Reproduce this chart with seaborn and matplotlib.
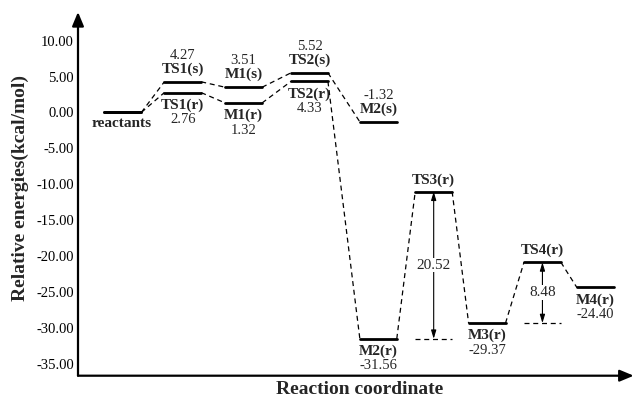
import numpy as np
import pandas as pd
import matplotlib
matplotlib.use("Agg")
import matplotlib.pyplot as plt
import seaborn as sns

# stages along the reaction coordinate
stages = ["reactants", "TS1", "M1", "TS2", "M2", "TS3", "M3", "TS4", "M4"]

# s path (stops at M2(s)) and r path (full)
s_labels = ["reactants", "TS1(s)", "M1(s)", "TS2(s)", "M2(s)"]
s_energy = [0.00, 4.27, 3.51, 5.52, -1.32]

r_labels = ["reactants", "TS1(r)", "M1(r)", "TS2(r)", "M2(r)", "TS3(r)", "M3(r)", "TS4(r)", "M4(r)"]
r_energy = [0.00, 2.76, 1.32, 4.33, -31.56, -11.04, -29.37, -20.89, -24.40]

# barriers drawn with double arrows: (ts stage, min stage, value)
barrier_ts = ["TS3", "TS4"]
barrier_from = ["M2", "M3"]
barrier_vals = [20.52, 8.48]

yticks = [10, 5, 0, -5, -10, -15, -20, -25, -30, -35]

# layout (pixel-like units along the x axis)
stage_pos = [45, 105, 166, 232, 301, 356.5, 410, 465.5, 518.5]
half_w = 18.5
pos = dict(zip(stages, stage_pos))

sns.set_theme(style="white")
plt.rcParams["font.family"] = ["Liberation Serif", "DejaVu Serif"]

fig = plt.figure(figsize=(6.35, 3.99), dpi=100)
ax = fig.add_axes([78 / 635, (399 - 375.7) / 399, 0.998 - 78 / 635, (375.7 - 12) / 399])


def levels_frame(names, energies):
    rows = []
    for i, (st, e) in enumerate(zip(names, energies)):
        x0 = pos[st]
        rows.append({"seg": i, "x": x0 - half_w, "E": e})
        rows.append({"seg": i, "x": x0 + half_w, "E": e})
    return pd.DataFrame(rows)


def links_frame(names, energies):
    rows = []
    for i in range(len(names) - 1):
        rows.append({"seg": i, "x": pos[names[i]] + half_w, "E": energies[i]})
        rows.append({"seg": i, "x": pos[names[i + 1]] - half_w, "E": energies[i + 1]})
    return pd.DataFrame(rows)


s_stages = stages[:len(s_energy)]
lv = pd.concat([levels_frame(s_stages, s_energy).assign(path="s"),
                levels_frame(stages, r_energy).assign(path="r")])
lv["uid"] = lv["path"] + lv["seg"].astype(str)
lk = pd.concat([links_frame(s_stages, s_energy).assign(path="s"),
                links_frame(stages, r_energy).assign(path="r")])
lk["uid"] = lk["path"] + lk["seg"].astype(str)

sns.lineplot(data=lk, x="x", y="E", units="uid", estimator=None, sort=False,
             color="black", lw=0.9, linestyle=(0, (4, 3)), ax=ax)
sns.lineplot(data=lv, x="x", y="E", units="uid", estimator=None, sort=False,
             color="black", lw=2.0, ax=ax)

lab_fs = 11
num_fs = 10.5


def put(x, y, txt, dy, bold=False, fs=num_fs):
    ax.annotate(txt, (x, y), xytext=(0, dy), textcoords="offset points",
                ha="center", va="center", fontsize=fs,
                fontweight="bold" if bold else "normal")


# s path labels: above the level (reactants below)
for st, lab, e in zip(s_stages, s_labels, s_energy):
    if lab == "reactants":
        put(pos[st] - 1, e, lab, -8, bold=True, fs=lab_fs)
        continue
    put(pos[st], e, lab, 9, bold=True, fs=lab_fs)
    put(pos[st], e, "%.2f" % e, 19)

# r path labels
for st, lab, e in zip(stages, r_labels, r_energy):
    if lab == "reactants":
        continue
    if st in barrier_ts:
        put(pos[st], e, lab, 8.5, bold=True, fs=lab_fs)
        continue
    put(pos[st], e, lab, -9, bold=True, fs=lab_fs)
    put(pos[st], e, "%.2f" % e, -19.5)

# barrier arrows
for ts, lo, val in zip(barrier_ts, barrier_from, barrier_vals):
    x0 = pos[ts]
    e_top = r_energy[stages.index(ts)]
    e_low = r_energy[stages.index(lo)]
    ax.plot([x0 - half_w, x0 + half_w], [e_low, e_low], color="black",
            lw=0.9, linestyle=(0, (4, 3)))
    ax.annotate("", xy=(x0, e_top), xytext=(x0, e_low),
                arrowprops=dict(arrowstyle="<|-|>,head_length=0.5,head_width=0.15",
                                color="black", lw=0.8, shrinkA=0, shrinkB=0,
                                mutation_scale=10))
    ax.text(x0, (e_top + e_low) / 2, "%.2f" % val, ha="center", va="center",
            fontsize=11, bbox=dict(facecolor="white", edgecolor="none", pad=0.5))

ax.set_xlim(0, 557)
ax.set_ylim(-36.7, 14.0)
ax.set_yticks(yticks)
ax.set_yticklabels(["%.2f" % t for t in yticks], fontsize=10.5)
ax.set_xticks([])
ax.tick_params(axis="y", direction="in", length=7, width=1.5, pad=3, colors="black")
ax.set_xlabel("")
ax.set_ylabel("")
for sp in ax.spines.values():
    sp.set_visible(False)

# axis arrows
ax.annotate("", xy=(0, 1), xytext=(0, 0), xycoords="axes fraction",
            arrowprops=dict(arrowstyle="-|>,head_length=0.6,head_width=0.25",
                            color="black", lw=1.6, shrinkA=0, shrinkB=0,
                            mutation_scale=14), annotation_clip=False)
ax.annotate("", xy=(1, 0), xytext=(0, 0), xycoords="axes fraction",
            arrowprops=dict(arrowstyle="-|>,head_length=0.6,head_width=0.25",
                            color="black", lw=1.6, shrinkA=0, shrinkB=0,
                            mutation_scale=14), annotation_clip=False)

fig.text(20 / 635, 1 - 188 / 399, "Relative energies(kcal/mol)", rotation=90,
         ha="center", va="center", fontsize=14, fontweight="bold")
fig.text(360 / 635, 1 - 389 / 399, "Reaction coordinate",
         ha="center", va="center", fontsize=14, fontweight="bold")

fig.savefig("out.png", dpi=100, facecolor="white")
